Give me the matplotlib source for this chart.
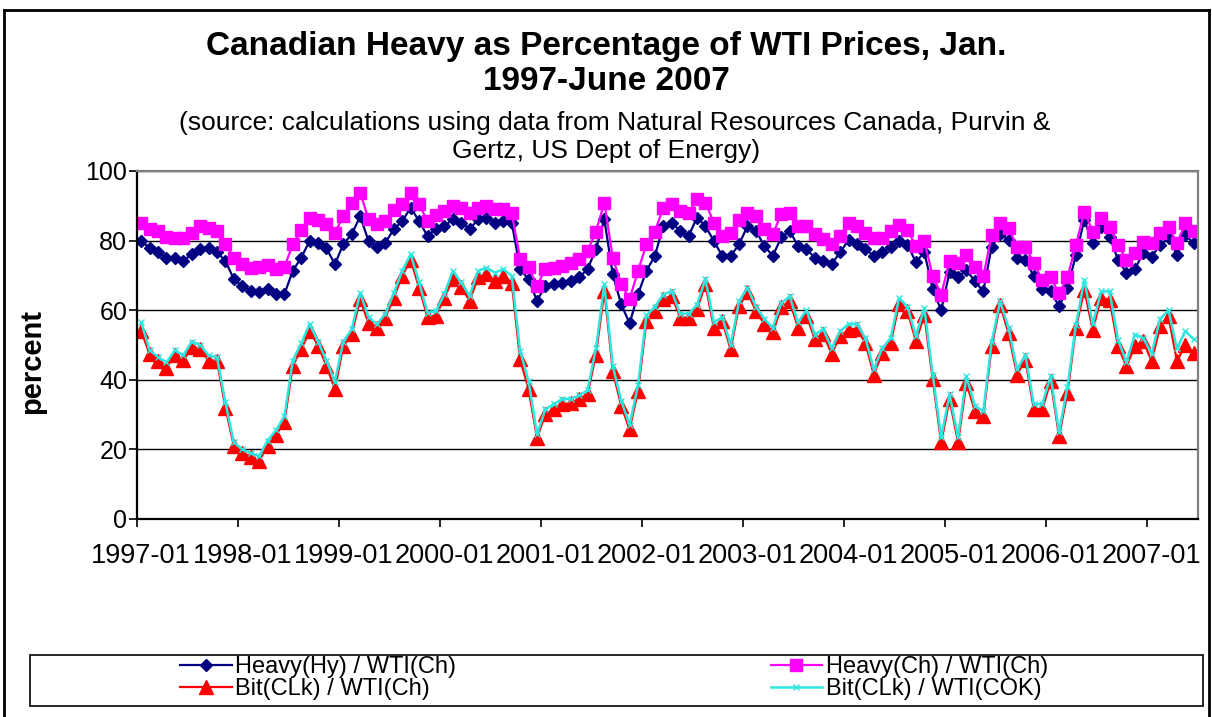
import matplotlib
matplotlib.use("Agg")
import matplotlib.pyplot as plt
from matplotlib.lines import Line2D
from matplotlib.patches import Rectangle
import numpy as np

plt.rcParams["font.family"] = ["Liberation Sans", "DejaVu Sans"]

# monthly values, Jan 1997 - Jun 2007 (percent of WTI)
heavy_hy_wti_ch = [
    79.9, 77.8, 76.6, 74.9, 74.9, 74.2, 76.1, 77.5, 77.8, 76.6, 74.2, 68.9,
    67.0, 65.6, 65.1, 66.0, 64.6, 64.6, 71.3, 75.1, 79.9, 79.4, 77.8, 73.2,
    79.0, 81.8, 87.0, 79.9, 78.2, 79.4, 83.3, 85.6, 89.5, 85.6, 81.3, 83.3,
    84.2, 86.1, 85.2, 83.3, 86.1, 86.6, 85.2, 85.6, 85.2, 71.8, 68.9, 62.7,
    67.0, 67.5, 67.9, 68.4, 69.4, 71.8, 77.5, 86.1, 70.3, 61.7, 56.2, 64.6,
    71.3, 75.6, 84.2, 85.2, 82.8, 81.3, 86.6, 84.2, 79.9, 75.6, 75.6, 78.9,
    84.2, 82.8, 78.5, 75.6, 80.9, 82.8, 78.5, 77.5, 75.1, 74.2, 73.3, 76.6,
    80.2, 79.0, 77.7, 75.5, 76.7, 78.2, 79.8, 78.8, 73.8, 76.7, 66.0, 60.0,
    71.0, 69.5, 71.5, 68.4, 65.4, 78.3, 82.0, 80.2, 74.9, 74.5, 69.7, 66.0,
    65.4, 61.1, 66.3, 75.9, 85.9, 79.2, 84.0, 81.1, 74.5, 70.8, 71.8, 76.4,
    75.4, 78.8, 80.7, 75.9, 81.6, 79.2,
]
heavy_ch_wti_ch = [
    85.2, 83.3, 82.8, 81.1, 80.7, 80.7, 82.3, 84.2, 83.7, 82.8, 78.9, 75.1,
    73.2, 72.2, 72.4, 73.0, 71.8, 72.4, 78.9, 83.0, 86.4, 85.8, 84.7, 82.3,
    87.1, 90.9, 93.8, 86.1, 84.7, 85.6, 88.7, 90.4, 93.8, 90.4, 85.6, 87.4,
    88.5, 90.0, 89.5, 88.0, 89.5, 90.0, 89.0, 89.0, 88.0, 74.8, 72.3, 67.0,
    71.8, 72.2, 72.7, 73.7, 74.6, 77.0, 82.6, 90.9, 75.1, 67.5, 63.2, 71.3,
    78.9, 82.6, 89.5, 90.4, 88.5, 87.8, 91.9, 90.9, 85.2, 81.3, 82.3, 86.0,
    88.0, 87.1, 83.3, 81.8, 87.6, 88.0, 84.2, 84.2, 81.8, 80.4, 78.9, 81.2,
    85.1, 84.3, 82.2, 80.8, 80.8, 82.7, 84.6, 83.1, 78.4, 79.8, 69.8, 64.5,
    74.0, 73.5, 75.9, 72.5, 69.7, 81.6, 85.0, 83.5, 78.3, 78.3, 73.5, 68.8,
    69.4, 64.9, 69.4, 78.8, 88.3, 82.6, 86.4, 84.0, 78.8, 74.5, 76.4, 79.7,
    79.2, 82.1, 84.0, 79.2, 85.0, 82.8,
]
bit_clk_wti_ch = [
    54.0, 47.4, 45.5, 43.5, 47.2, 45.6, 49.3, 48.8, 45.5, 45.5, 32.0, 21.0,
    19.1, 17.9, 16.7, 21.0, 24.2, 27.8, 44.0, 48.8, 54.0, 49.8, 44.0, 37.3,
    49.8, 53.1, 63.2, 56.2, 55.0, 57.9, 63.6, 69.9, 74.4, 66.5, 58.1, 58.4,
    63.6, 68.9, 66.7, 62.7, 69.4, 70.3, 68.4, 69.9, 67.9, 45.9, 37.3, 23.4,
    30.1, 31.6, 33.0, 33.2, 34.4, 35.9, 47.2, 65.6, 42.6, 32.5, 25.8, 36.8,
    56.9, 59.8, 63.2, 64.1, 57.9, 57.9, 60.3, 67.5, 55.0, 56.9, 48.8, 61.2,
    65.1, 59.8, 56.0, 53.6, 60.8, 62.7, 55.0, 58.4, 51.7, 53.1, 47.5, 52.5,
    54.4, 54.7, 50.6, 41.5, 47.7, 50.6, 61.8, 59.7, 51.1, 58.5, 40.1, 22.0,
    34.4, 22.0, 39.1, 31.0, 29.6, 49.6, 61.5, 53.4, 41.5, 45.8, 31.5, 31.5,
    39.6, 23.8, 36.3, 54.9, 65.9, 54.4, 63.5, 63.0, 49.6, 43.9, 49.6, 51.1,
    45.3, 55.4, 58.2, 45.3, 50.1, 47.7,
]
bit_clk_wti_cok = [
    56.5, 48.5, 46.5, 45.0, 48.5, 47.0, 51.0, 50.0, 47.0, 46.5, 33.5, 22.0,
    20.0, 19.0, 18.0, 22.5, 25.5, 29.5, 45.5, 50.5, 56.0, 51.0, 45.5, 39.5,
    51.0, 54.5, 65.0, 58.0, 56.0, 59.0, 65.0, 71.3, 76.1, 68.0, 59.3, 59.8,
    64.6, 71.3, 68.0, 64.1, 71.3, 72.2, 70.8, 71.8, 69.9, 48.3, 39.7, 24.4,
    31.5, 33.0, 34.5, 34.5, 35.5, 37.0, 49.0, 67.5, 44.0, 34.0, 27.0, 38.5,
    58.5, 61.0, 64.5, 65.5, 59.0, 59.0, 61.5, 69.0, 56.5, 58.0, 50.0, 62.5,
    66.5, 61.0, 57.5, 55.0, 62.0, 64.0, 56.5, 60.0, 53.0, 54.5, 49.0, 54.0,
    56.0, 56.0, 52.0, 43.0, 49.0, 52.0, 63.5, 61.0, 52.5, 60.6, 41.5, 23.5,
    35.8, 23.5, 41.0, 32.5, 31.0, 51.0, 62.5, 55.0, 43.0, 47.0, 33.0, 33.0,
    41.0, 25.0, 38.0, 55.8, 68.7, 56.0, 65.4, 65.4, 51.5, 45.1, 53.0, 52.0,
    47.5, 57.5, 60.0, 49.0, 54.0, 51.6,
]
year_labels = ["1997-01", "1998-01", "1999-01", "2000-01", "2001-01", "2002-01",
               "2003-01", "2004-01", "2005-01", "2006-01", "2007-01"]

W, H = 1212, 717
fig = plt.figure(figsize=(W / 100, H / 100), dpi=100)
ax = fig.add_axes([137 / W, 1 - 519 / H, (1198 - 137) / W, (519 - 171) / H])

x = np.arange(len(heavy_hy_wti_ch))
l1, = ax.plot(x, heavy_hy_wti_ch, color="#000080", lw=1.6, marker="D", ms=6.5,
              label="Heavy(Hy) / WTI(Ch)")
l2, = ax.plot(x, heavy_ch_wti_ch, color="#FF00FF", lw=1.6, marker="s", ms=9,
              label="Heavy(Ch) / WTI(Ch)")
l3, = ax.plot(x, bit_clk_wti_ch, color="#FF0000", lw=1.6, marker="^", ms=9.5,
              label="Bit(CLk) / WTI(Ch)")
l4, = ax.plot(x, bit_clk_wti_cok, color="#2EE6E0", lw=1.8, marker="x", ms=4,
              mew=1, label="Bit(CLk) / WTI(COK)")

ax.set_xlim(-0.5, len(x) - 0.5)
ax.set_ylim(0, 100)
ax.set_yticks(range(0, 101, 20))
ax.yaxis.grid(True, color="black", lw=1)
ax.set_axisbelow(True)
ax.tick_params(axis="y", labelsize=18, length=6, width=1.2, direction="out", pad=1)

ax.set_xticks(np.arange(0, len(x) + 1, 12) - 0.5)
ax.set_xticklabels([])
ax.set_xticks(np.arange(0, len(x), 12), minor=True)
ax.set_xticklabels(year_labels, minor=True)
ax.tick_params(axis="x", which="major", length=6, width=1.2, direction="out")
ax.tick_params(axis="x", which="minor", length=0, labelsize=19.5, pad=17)

for s in ["left", "bottom"]:
    ax.spines[s].set_color("black")
    ax.spines[s].set_linewidth(1.6)
for s in ["top", "right"]:
    ax.spines[s].set_color("#808080")
    ax.spines[s].set_linewidth(1.6)

fig.text(32 / W, 1 - 362 / H, "percent", rotation=90, ha="center", va="center",
         fontsize=21, fontweight="bold")

fig.text(0.5, 1 - 46 / H, "Canadian Heavy as Percentage of WTI Prices, Jan.",
         ha="center", va="center", fontsize=24, fontweight="bold")
fig.text(0.5, 1 - 81 / H, "1997-June 2007",
         ha="center", va="center", fontsize=24, fontweight="bold")
fig.text(0.507, 1 - 123 / H,
         "(source: calculations using data from Natural Resources Canada, Purvin &",
         ha="center", va="center", fontsize=19)
fig.text(0.5, 1 - 151 / H, "Gertz, US Dept of Energy)",
         ha="center", va="center", fontsize=19)

# legend box and entries
fig.add_artist(Rectangle((30 / W, 1 - 706 / H), (1203 - 30) / W, 51 / H,
                         transform=fig.transFigure, fill=False,
                         edgecolor="black", lw=1.2))
fig.legend([l1, l3, l2, l4], [l1.get_label(), l3.get_label(), l2.get_label(), l4.get_label()],
           ncol=2, loc="upper left", bbox_to_anchor=(180 / W, 1 - 656 / H),
           frameon=False, fontsize=17, handlelength=2.2, handletextpad=0.15,
           columnspacing=13.3, labelspacing=0.0, borderpad=0, borderaxespad=0)

# outer chart border
fig.add_artist(Line2D([4 / W, 4 / W], [0, 1 - 10 / H], transform=fig.transFigure,
                      color="black", lw=2))
fig.add_artist(Line2D([4 / W, 1209 / W], [1 - 10 / H, 1 - 10 / H],
                      transform=fig.transFigure, color="black", lw=2))
fig.add_artist(Line2D([1209 / W, 1209 / W], [0, 1 - 10 / H], transform=fig.transFigure,
                      color="black", lw=2))

fig.savefig("out.png", dpi=100, facecolor="white")
